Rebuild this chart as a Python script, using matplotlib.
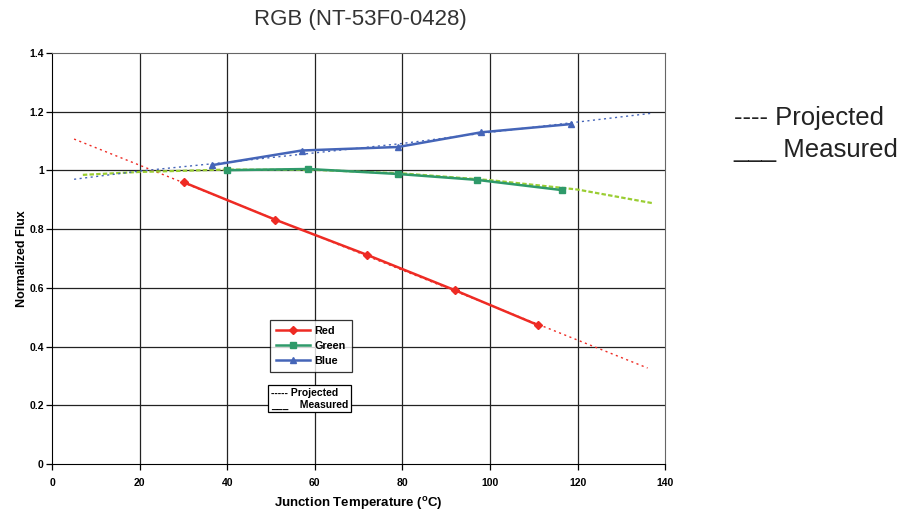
import matplotlib
matplotlib.use("Agg")
import matplotlib.pyplot as plt

plt.rcParams['font.family'] = ['Liberation Sans', 'DejaVu Sans']

# measured points
red_t = [30, 51, 72, 92, 111]
red_f = [0.960, 0.832, 0.712, 0.592, 0.473]
green_t = [40, 58.5, 79, 97, 116.5]
green_f = [1.001, 1.005, 0.988, 0.968, 0.933]
blue_t = [36.5, 57, 79, 98, 118.5]
blue_f = [1.018, 1.068, 1.080, 1.130, 1.158]

# projected (trend) curves
red_pt = [5, 136]
red_pf = [1.107, 0.327]
green_pt = [7, 20, 40, 60, 80, 100, 120, 137]
green_pf = [0.985, 0.995, 1.003, 1.002, 0.990, 0.967, 0.935, 0.889]
blue_pt = [5, 20, 40, 60, 80, 100, 120, 137]
blue_pf = [0.970, 0.998, 1.028, 1.060, 1.092, 1.130, 1.165, 1.195]

xticks = [0, 20, 40, 60, 80, 100, 120, 140]
yticks = [0, 0.2, 0.4, 0.6, 0.8, 1.0, 1.2, 1.4]
ytick_labels = ['0', '0.2', '0.4', '0.6', '0.8', '1', '1.2', '1.4']

red_c = '#ee2b24'
green_c = '#2f9a6a'
green_proj_c = '#9acd32'
blue_c = '#4565b8'

fig = plt.figure(figsize=(9, 5.15), dpi=100)
ax = fig.add_axes([0.058, 0.099, 0.681, 0.798])

grid_c = '#222222'
for x in xticks[1:-1]:
    ax.axvline(x, color=grid_c, lw=0.9, zorder=1)
for y in yticks[1:-1]:
    ax.axhline(y, color=grid_c, lw=0.9, zorder=1)

# projected
ax.plot(red_pt, red_pf, ls=(0, (1.5, 2.5)), color=red_c, lw=1.0, zorder=2)
ax.plot(green_pt, green_pf, ls=(0, (2, 1)), color=green_proj_c, lw=1.6, zorder=2)
ax.plot(blue_pt, blue_pf, ls=(0, (1.5, 2.5)), color=blue_c, lw=1.0, zorder=2)

# measured
ax.plot(red_t, red_f, '-D', color=red_c, lw=1.8, ms=4, zorder=3, label='Red')
ax.plot(green_t, green_f, '-s', color=green_c, lw=1.8, ms=5, zorder=3, label='Green')
ax.plot(blue_t, blue_f, '-^', color=blue_c, lw=1.8, ms=5, zorder=3, label='Blue')

ax.set_xlim(0, 140)
ax.set_ylim(0, 1.4)
ax.set_xticks(xticks)
ax.set_yticks(yticks)
ax.set_yticklabels(ytick_labels)
ax.tick_params(direction='out', length=4, width=0.9, labelsize=7.5)
ax.tick_params(axis='x', pad=6)
ax.tick_params(axis='y', pad=2)
for lab in ax.get_xticklabels() + ax.get_yticklabels():
    lab.set_fontweight('bold')
for s in ['left', 'bottom']:
    ax.spines[s].set_color('black')
for s in ['top', 'right']:
    ax.spines[s].set_color('#666666')

ax.set_xlabel('Junction Temperature ($\\mathregular{^{o}}$C)', fontsize=9.5, fontweight='bold', labelpad=5)
ax.set_ylabel('Normalized Flux', fontsize=9, fontweight='bold', labelpad=1)

leg = ax.legend(loc='upper left', bbox_to_anchor=(0.355, 0.35),
                prop={'weight': 'bold', 'size': 7.8}, frameon=True, fancybox=False,
                edgecolor='black', handlelength=3.2, borderpad=0.55, labelspacing=0.45,
                handletextpad=0.4, borderaxespad=0)
leg.get_frame().set_linewidth(0.9)

ax.text(0.357, 0.185, '----- Projected\n___    Measured', transform=ax.transAxes,
        fontsize=7.5, fontweight='bold', va='top', ha='left', linespacing=1.2,
        bbox=dict(boxstyle='square,pad=0.25', fc='white', ec='black', lw=0.9), zorder=5)

fig.text(0.4, 0.963, 'RGB (NT-53F0-0428)', fontsize=16, color='#333333', ha='center', va='center')
fig.text(0.815, 0.77, '---- Projected', fontsize=18.5, color='#222222', ha='left', va='center')
fig.text(0.815, 0.708, '___ Measured', fontsize=18.5, color='#222222', ha='left', va='center')

fig.savefig('out.png', dpi=100)
